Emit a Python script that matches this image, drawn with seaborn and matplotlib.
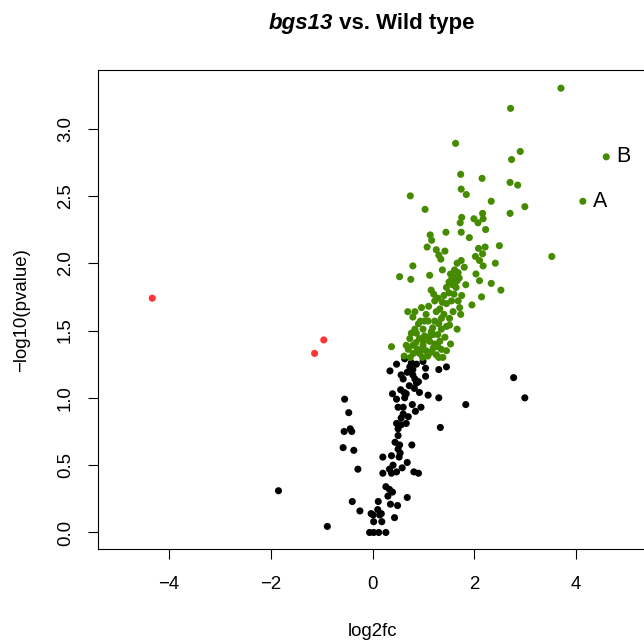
import matplotlib
matplotlib.use("Agg")
import matplotlib.pyplot as plt
import seaborn as sns
import pandas as pd

# ---------------- data ----------------
up_log2fc = [3.70, 2.71, 1.63, 2.90, 2.73, 4.59, 1.73, 2.15, 2.70, 2.85, 1.74, 1.84, 0.74, 2.33, 4.13,
             1.03, 2.99, 2.70, 2.16, 1.75, 1.99, 1.72, 2.07, 2.17, 2.22, 1.44, 1.74, 1.13, 1.90, 1.16,
             1.07, 1.25, 1.42, 2.49, 2.08, 2.21, 2.16, 1.30, 1.34, 3.52, 2.02, 1.74, 1.66, 2.10, 2.41,
             0.79, 1.80, 2.17, 1.37, 0.53, 0.75, 1.12, 1.53, 1.61, 2.03, 2.10, 2.33, 1.83, 1.55, 1.66,
             1.15, 1.45, 2.52,
             1.58, 1.62, 1.68, 1.57, 1.50, 1.70, 1.64,
             1.95, 2.14, 1.20, 1.28, 1.40, 1.50, 1.60, 1.68, 1.75, 1.55, 1.45, 1.22, 1.37,
             0.69, 0.83, 0.79, 0.96, 1.10, 1.25, 1.05, 0.94, 1.09, 1.22, 1.35, 1.51, 1.58, 1.71, 1.73,
             1.66, 1.53, 0.37, 0.66, 0.83, 0.86, 0.99, 1.15, 1.35, 1.45, 1.51, 0.73, 0.79, 0.92, 0.99,
             1.12, 1.19, 1.32, 1.35, 1.38, 1.25, 1.09, 0.92, 0.74, 1.19,
             1.40, 1.30, 1.02, 0.88, 1.05, 1.15, 1.28, 1.42, 0.80, 0.98, 1.30, 1.18, 0.90, 1.45, 1.02, 1.32,
             0.70, 0.85, 0.95, 1.10, 1.22, 1.08, 0.76, 1.28, 0.62, 1.00]
up_logp = [3.30, 3.15, 2.89, 2.83, 2.77, 2.79, 2.66, 2.63, 2.60, 2.58, 2.55, 2.51, 2.50, 2.46, 2.46,
           2.40, 2.42, 2.37, 2.37, 2.34, 2.33, 2.30, 2.30, 2.33, 2.25, 2.23, 2.23, 2.21, 2.19, 2.17,
           2.12, 2.10, 2.09, 2.13, 2.11, 2.12, 2.07, 2.06, 2.03, 2.05, 2.05, 2.02, 2.00, 2.02, 2.00,
           1.98, 1.97, 1.98, 1.95, 1.90, 1.88, 1.91, 1.92, 1.95, 1.92, 1.87, 1.85, 1.84, 1.88, 1.87,
           1.80, 1.82, 1.80,
           1.90, 1.86, 1.93, 1.84, 1.86, 1.89, 1.82,
           1.69, 1.75, 1.77, 1.74, 1.76, 1.78, 1.77, 1.72, 1.76, 1.72, 1.70, 1.72, 1.71,
           1.64, 1.64, 1.60, 1.67, 1.68, 1.64, 1.62, 1.57, 1.57, 1.57, 1.59, 1.59, 1.64, 1.67, 1.62,
           1.51, 1.40, 1.38, 1.39, 1.51, 1.48, 1.51, 1.49, 1.51, 1.53, 1.54, 1.44, 1.39, 1.44, 1.39,
           1.42, 1.37, 1.42, 1.36, 1.30, 1.32, 1.32, 1.33, 1.30, 1.47,
           1.62, 1.55, 1.46, 1.36, 1.35, 1.34, 1.38, 1.45, 1.33, 1.30, 1.30, 1.52, 1.55, 1.35, 1.57, 1.66,
           1.36, 1.41, 1.35, 1.45, 1.40, 1.31, 1.48, 1.47, 1.31, 1.42]

down_log2fc = [-4.33, -0.96, -1.14]
down_logp = [1.74, 1.43, 1.33]

ns_log2fc = [-1.85, -0.89, -0.55, -0.47, -0.56, -0.44, -0.41, -0.58, -0.37, -0.29, -0.40, -0.25,
             0.01, 0.14, 0.10, 0.02, 0.18, -0.06, 0.02, 0.12, 0.26, 0.43, 0.49, 0.35, 0.11, 0.68,
             0.26, 0.33, 0.39, 0.30, 0.20, 0.33, 0.40, 0.37, 0.47, 0.58, 0.81, 0.90, 0.68, 0.20,
             0.37, 0.52, 0.54, 0.50, 0.53, 0.77, 0.44, 0.50, 0.47, 0.56, 0.66, 0.50, 0.56, 0.60,
             0.70, 0.50, 0.60, 0.84, 0.78, 0.95, 0.47, 0.63, 0.66, 0.62, 0.39, 0.92, 1.09, 1.30,
             1.33, 1.83, 0.72, 0.83, 0.86, 0.79, 0.56, 0.60, 0.34, 0.47, 0.63, 0.73, 0.79, 0.86,
             0.99, 1.04, 1.04, 1.30, 1.45, 2.77, 2.99, -0.03, 0.17,
             0.68, 0.76, 0.90, 0.55, 0.82]
ns_logp = [0.31, 0.045, 0.99, 0.89, 0.75, 0.77, 0.75, 0.63, 0.61, 0.47, 0.23, 0.16,
           0.13, 0.13, 0.17, 0.08, 0.08, 0.0, 0.0, 0.0, 0.0, 0.11, 0.20, 0.21, 0.23, 0.26,
           0.34, 0.32, 0.30, 0.27, 0.44, 0.47, 0.50, 0.44, 0.45, 0.48, 0.45, 0.44, 0.52, 0.56,
           0.57, 0.56, 0.59, 0.62, 0.65, 0.65, 0.67, 0.72, 0.81, 0.80, 0.81, 0.77, 0.85, 0.88,
           0.86, 0.93, 0.93, 0.90, 0.95, 0.93, 0.99, 1.00, 1.03, 1.04, 1.03, 1.04, 1.02, 1.00,
           0.78, 0.95, 1.09, 1.14, 1.11, 1.17, 1.17, 1.14, 1.20, 1.25, 1.29, 1.23, 1.21, 1.25,
           1.27, 1.22, 1.16, 1.21, 1.23, 1.15, 1.00, 0.14, 0.14,
           1.19, 1.26, 1.12, 1.06, 1.07]

label_names = ["A", "B"]
label_log2fc = [4.13, 4.59]
label_logp = [2.46, 2.79]

x_ticks = [-4, -2, 0, 2, 4]
x_tick_labels = ["\u22124", "\u22122", "0", "2", "4"]
y_ticks = [0.0, 0.5, 1.0, 1.5, 2.0, 2.5, 3.0]
y_tick_labels = ["0.0", "0.5", "1.0", "1.5", "2.0", "2.5", "3.0"]

title_italic = "bgs13"
title_rest = " vs. Wild type"
x_label = "log2fc"
y_label = "\u2212log10(pvalue)"

# ---------------- figure ----------------
sns.set_theme(style="white")
plt.rcParams['font.family'] = ['Liberation Sans', 'DejaVu Sans']
plt.rcParams['text.color'] = 'black'

df = pd.concat([
    pd.DataFrame({"log2fc": ns_log2fc, "logp": ns_logp, "group": "ns"}),
    pd.DataFrame({"log2fc": up_log2fc, "logp": up_logp, "group": "up"}),
    pd.DataFrame({"log2fc": down_log2fc, "logp": down_logp, "group": "down"}),
], ignore_index=True)

W, H = 644, 641
fig = plt.figure(figsize=(W / 100, H / 100), dpi=100)
fig.patch.set_facecolor("white")
left, right, top, bottom = 98.3, 648.0, 70.0, 549.3
ax = fig.add_axes([left / W, 1 - bottom / H, (right - left) / W, (bottom - top) / H])

sns.scatterplot(data=df, x="log2fc", y="logp", hue="group",
                palette={"ns": "black", "up": "#458B00", "down": "#FF3333"},
                s=26, linewidth=0, legend=False, ax=ax, zorder=3)

ax.set_xlim(-5.39, 5.41)
ax.set_ylim(-0.125, 3.435)
ax.set_xticks(x_ticks)
ax.set_xticklabels(x_tick_labels)
ax.set_yticks(y_ticks)
ax.set_yticklabels(y_tick_labels, rotation=90, va="center")
ax.set_xlabel("")
ax.set_ylabel("")
ax.tick_params(axis="both", direction="out", length=7.5, width=0.8, color="black",
               labelsize=13.4, labelcolor="black", bottom=True, left=True)
ax.tick_params(axis="x", pad=12)
ax.tick_params(axis="y", pad=10)
for sp in ax.spines.values():
    sp.set_visible(True)
    sp.set_color("black")
    sp.set_linewidth(0.8)

for name, xv, yv in zip(label_names, label_log2fc, label_logp):
    ax.annotate(name, (xv, yv), xytext=(7, 0), textcoords="offset points",
                ha="left", va="center", fontsize=15.5, color="black")

fig.text(373 / W, 1 - 631 / H, x_label, ha="center", va="center", fontsize=13.4, color="black")
fig.text(22 / W, 1 - 310 / H, y_label, ha="center", va="center", rotation=90, fontsize=13.4,
         color="black")

# title with italic part
renderer = fig.canvas.get_renderer()
t1 = fig.text(0, 1 - 29 / H, title_italic, fontsize=16, fontweight="bold", fontstyle="italic",
              ha="left", va="baseline", color="black")
t2 = fig.text(0, 1 - 29 / H, title_rest, fontsize=16, fontweight="bold",
              ha="left", va="baseline", color="black")
w1 = t1.get_window_extent(renderer).width
w2 = t2.get_window_extent(renderer).width
x0 = 372 - (w1 + w2) / 2
t1.set_x(x0 / W)
t2.set_x((x0 + w1) / W)

fig.savefig("out.png", dpi=100, facecolor="white")
